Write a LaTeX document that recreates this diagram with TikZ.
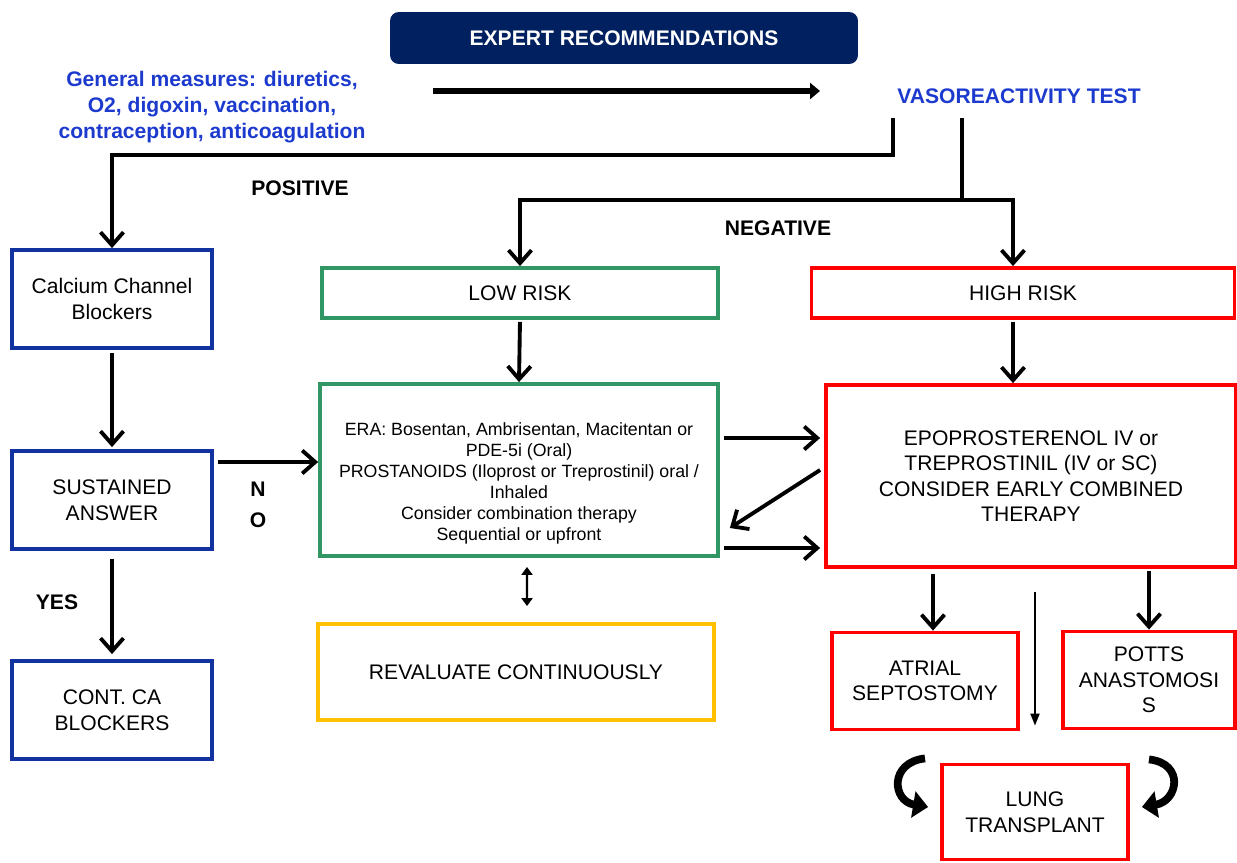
\documentclass[tikz,border=0pt]{standalone}
\usepackage{fontspec}
\setmainfont{Liberation Sans}
\setsansfont{Liberation Sans}
\usetikzlibrary{arrows.meta}

\definecolor{recnavy}{RGB}{0,32,96}
\definecolor{measblue}{RGB}{28,58,205}
\definecolor{ccbblue}{RGB}{18,50,160}
\definecolor{lowgreen}{RGB}{48,150,100}
\definecolor{revyellow}{RGB}{255,192,0}
\definecolor{highred}{RGB}{255,0,0}

\begin{document}
\begin{tikzpicture}[
  x=0.02cm, y=-0.02cm,
  font=\sffamily\fontsize{12}{14.5}\selectfont,
  box/.style={draw, line width=2.2pt, align=center, fill=white, inner sep=2pt},
  ccbbox/.style={box, draw=ccbblue, minimum width=4cm, minimum height=1.96cm},
  lowbox/.style={box, draw=lowgreen, minimum width=7.92cm, minimum height=1cm},
  revbox/.style={box, draw=revyellow, minimum width=7.92cm, minimum height=1.92cm},
  redbox/.style={box, draw=highred, minimum width=3.72cm, minimum height=1.94cm},
  hdr/.style={fill=recnavy, rounded corners=5pt, text=white, font=\sffamily\bfseries\fontsize{12}{14.5}\selectfont,
    minimum width=9.36cm, minimum height=1.04cm},
  bluetxt/.style={text=measblue, align=center, font=\sffamily\bfseries\fontsize{12}{14.7}\selectfont},
  lbl/.style={align=center, font=\sffamily\bfseries\fontsize{12}{14.5}\selectfont},
  arrow/.style={-{Straight Barb[length=0.26cm,width=0.46cm]}, line width=2.2pt},
  line/.style={line width=2.2pt},
  bigarrow/.style={-{Triangle[length=0.2cm,width=0.32cm]}, line width=3.4pt},
  thinarrow/.style={-{Triangle[length=0.24cm,width=0.18cm]}, line width=1.1pt},
  dblarrow/.style={{Triangle[length=0.16cm,width=0.22cm]}-{Triangle[length=0.16cm,width=0.22cm]}, line width=1.4pt},
  turnarrow/.style={-{Triangle[length=0.3cm,width=0.52cm]}, line width=4.4pt}
]
\useasboundingbox (0,0) rectangle (1237,862);

\node[hdr] (rec) at (624,38) {EXPERT RECOMMENDATIONS};
\node[bluetxt] (gen) at (212,107)
  {General measures: diuretics,\\O2, digoxin, vaccination,\\contraception, anticoagulation};
\node[bluetxt] (vaso) at (1019,96) {VASOREACTIVITY TEST};

\node[lbl] (pos) at (300,188) {POSITIVE};
\node[lbl] (neg) at (778,228) {NEGATIVE};
\node[lbl] (yes) at (57,602) {YES};
\node[lbl] (no) at (258,505) {N\\[3pt]O};

\node[ccbbox] (ccb) at (112,299) {Calcium Channel\\Blockers};
\node[ccbbox] (sust) at (112,500) {SUSTAINED\\ANSWER};
\node[ccbbox] (cont) at (112,710) {CONT. CA\\BLOCKERS};

\node[lowbox] (low) at (520,293) {LOW RISK};
\node[lowbox, minimum width=7.96cm, minimum height=3.44cm, font=\sffamily\fontsize{10.1}{12}\selectfont] (era) at (519,470)
  {\rule{0pt}{0.8cm}ERA: Bosentan, Ambrisentan, Macitentan or\\PDE-5i (Oral)\\PROSTANOIDS (Iloprost or Treprostinil) oral /\\Inhaled\\Consider combination therapy\\Sequential or upfront};
\node[revbox] (rev) at (516,672) {REVALUATE CONTINUOUSLY};

\node[redbox, minimum width=8.46cm, minimum height=1cm] (high) at (1023,293) {HIGH RISK};
\node[redbox, minimum width=8.2cm, minimum height=3.64cm] (epo) at (1031,476)
  {EPOPROSTERENOL IV or\\TREPROSTINIL (IV or SC)\\CONSIDER EARLY COMBINED\\THERAPY};
\node[redbox] (atr) at (925,681) {ATRIAL\\SEPTOSTOMY};
\node[redbox, minimum width=3.44cm] (potts) at (1149,680) {POTTS\\ANASTOMOSI\\S};
\node[redbox, minimum height=1.9cm] (lung) at (1035,812) {LUNG\\TRANSPLANT};

% top of the chart
\coordinate (recA) at (433,91);
\coordinate (recB) at (820,91);
\coordinate (posTop) at (893,118);
\coordinate (negTop) at (962,118);
\coordinate (negSplit) at (962,200);
\coordinate (noA) at (218,462);

\draw[bigarrow] (recA) -- (recB);
\draw[arrow] (posTop) -- ++(0,37) -| (ccb.north);
\draw[line] (negTop) -- (negSplit);
\draw[arrow] (negSplit) -| (low.north);
\draw[arrow] (negSplit) -| ([xshift=-0.2cm]high.north);

% left column
\draw[arrow, shorten <=0.06cm, shorten >=0.04cm] (ccb.south) -- (sust.north);
\draw[arrow, shorten <=0.16cm, shorten >=0.1cm] (sust.south) -- (cont.north);
\draw[arrow] (noA) -- (noA -| era.west);

% middle and right
\draw[arrow, shorten <=0.04cm] (low.south) -- (era.north);
\draw[dblarrow, shorten <=0.18cm, shorten >=0.32cm] ([xshift=0.16cm]era.south) -- ([xshift=0.22cm]rev.north);
\draw[arrow, shorten <=0.04cm] ([xshift=-0.2cm]high.south) -- ([xshift=-0.2cm]high.south |- epo.north);
\draw[arrow, shorten <=0.08cm, shorten >=0.08cm] ([yshift=0.64cm]era.east) -- ([yshift=0.64cm]era.east -| epo.west);
\draw[arrow] ([xshift=-0.08cm,yshift=0.12cm]epo.west) -- ([xshift=0.2cm,yshift=-1.16cm]era.east);
\draw[arrow, shorten <=0.08cm, shorten >=0.08cm] ([yshift=-1.56cm]era.east) -- ([yshift=-1.56cm]era.east -| epo.west);

\draw[arrow, shorten <=0.1cm] ([xshift=0.16cm]atr.north |- epo.south) -- ([xshift=0.16cm]atr.north);
\draw[arrow, shorten <=0.04cm] (potts.north |- epo.south) -- (potts.north);
\draw[thinarrow, shorten <=0.46cm, shorten >=0.74cm] (epo.south -| lung.north) -- (lung.north);

\draw[turnarrow] ([yshift=-0.54cm]atr.south) .. controls +(-36,4) and +(-36,-6) .. ([xshift=-0.24cm,yshift=0.1cm]lung.west);
\draw[turnarrow] ([yshift=-0.58cm]potts.south) .. controls +(36,4) and +(36,-6) .. ([xshift=0.24cm,yshift=0.1cm]lung.east);

\end{tikzpicture}
\end{document}
